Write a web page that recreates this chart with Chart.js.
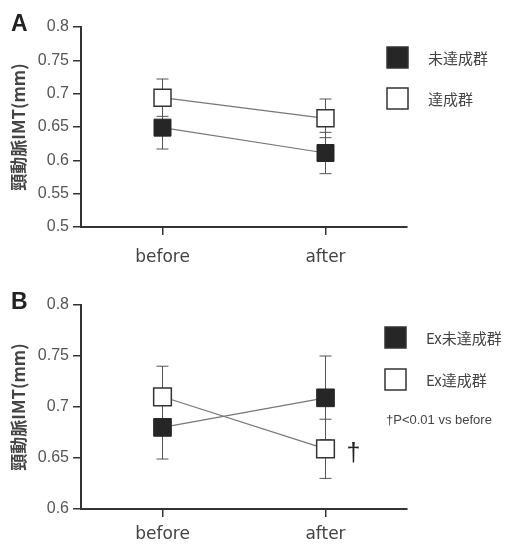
<!DOCTYPE html>
<html>
<head>
<meta charset="utf-8">
<script src="https://cdn.jsdelivr.net/npm/chart.js@4"></script>
<style>
body { margin: 0; background: #fff; }
#wrap { position: relative; width: 508px; height: 549px; }
canvas { position: absolute; left: 0; }
</style>
</head>
<body>
<div id="wrap">
<canvas id="chartA" width="508" height="278" style="top:0px"></canvas>
<canvas id="chartB" width="508" height="271" style="top:278px"></canvas>
</div>
<script>
var categories = ['before', 'after'];

// panel A
var labelsA = ['未達成群', '達成群'];
var miTasseiA = [0.649, 0.611];
var miTasseiA_sd = [0.032, 0.031];
var tasseiA = [0.694, 0.663];
var tasseiA_sd = [0.028, 0.029];
var yTicksA = [0.5, 0.55, 0.6, 0.65, 0.7, 0.75, 0.8];

// panel B
var labelsB = ['Ex未達成群', 'Ex達成群'];
var miTasseiB = [0.68, 0.709];
var miTasseiB_sd = [0.031, 0.041];
var tasseiB = [0.71, 0.659];
var tasseiB_sd = [0.03, 0.029];
var tasseiB_marks = ['', '†'];
var yTicksB = [0.6, 0.65, 0.7, 0.75, 0.8];
var noteB = '†P<0.01 vs before';

var yTitle = '頸動脈IMT(mm)';

function makePanel(canvasId, p) {
    var ctx = document.getElementById(canvasId).getContext('2d');

    var errorBars = {
        id: 'errorBars',
        beforeDatasetsDraw: function(chart) {
            var c = chart.ctx;
            var y = chart.scales.y;
            c.save();
            c.strokeStyle = '#555';
            c.lineWidth = 1;
            chart.data.datasets.forEach(function(ds, i) {
                var meta = chart.getDatasetMeta(i);
                meta.data.forEach(function(pt, j) {
                    var top = y.getPixelForValue(ds.data[j] + ds.errors[j]);
                    var bot = y.getPixelForValue(ds.data[j] - ds.errors[j]);
                    c.beginPath();
                    c.moveTo(pt.x, top); c.lineTo(pt.x, bot);
                    c.moveTo(pt.x - 6, top); c.lineTo(pt.x + 6, top);
                    c.moveTo(pt.x - 6, bot); c.lineTo(pt.x + 6, bot);
                    c.stroke();
                });
            });
            c.restore();
        }
    };

    var extras = {
        id: 'extras',
        afterDraw: function(chart) {
            var c = chart.ctx;
            c.save();
            // panel letter
            c.fillStyle = '#222';
            c.font = 'bold 23px "Liberation Sans"';
            c.textBaseline = 'middle';
            c.textAlign = 'left';
            c.fillText(p.letter, 11, 25);
            // legend
            chart.data.datasets.forEach(function(ds, i) {
                var top = p.legendY[i];
                c.fillStyle = ds.pointBackgroundColor;
                c.fillRect(p.legendX, top, 21, 21);
                c.strokeStyle = '#333';
                c.lineWidth = 1.5;
                c.strokeRect(p.legendX, top, 21, 21);
                c.fillStyle = '#444';
                c.font = '15px "Noto Sans CJK JP"';
                c.fillText(ds.label, p.legendX + 41, top + 11);
            });
            if (p.note) {
                c.fillStyle = '#444';
                c.font = '13px "Liberation Sans"';
                c.fillText(p.note, p.legendX + 1, p.noteY);
            }
            // significance marks
            chart.data.datasets.forEach(function(ds, i) {
                if (!ds.marks) return;
                var meta = chart.getDatasetMeta(i);
                meta.data.forEach(function(pt, j) {
                    if (!ds.marks[j]) return;
                    c.fillStyle = '#222';
                    c.font = '25px "Liberation Sans"';
                    c.textAlign = 'left';
                    c.fillText(ds.marks[j], pt.x + 21, pt.y + 5);
                });
            });
            c.restore();
        }
    };

    return new Chart(ctx, {
        type: 'line',
        data: {
            labels: categories,
            datasets: [
                {
                    label: p.labels[0],
                    data: p.black,
                    errors: p.blackSd,
                    borderColor: '#777',
                    borderWidth: 1.2,
                    pointStyle: 'rect',
                    pointRadius: p.radius,
                    pointBackgroundColor: '#262626',
                    pointBorderColor: '#262626',
                    pointBorderWidth: 1
                },
                {
                    label: p.labels[1],
                    data: p.white,
                    errors: p.whiteSd,
                    marks: p.whiteMarks,
                    borderColor: '#777',
                    borderWidth: 1.2,
                    pointStyle: 'rect',
                    pointRadius: p.radius,
                    pointBackgroundColor: '#ffffff',
                    pointBorderColor: '#333',
                    pointBorderWidth: 1.5
                }
            ]
        },
        options: {
            responsive: false,
            animation: false,
            events: [],
            layout: { padding: { top: 27, right: 101, left: 0, bottom: 0 } },
            plugins: { legend: { display: false }, tooltip: { enabled: false } },
            scales: {
                x: {
                    type: 'category',
                    offset: true,
                    afterFit: function(s) { s.height = p.xHeight; },
                    border: { display: true, color: '#333', width: 2 },
                    grid: { offset: false, drawOnChartArea: false, drawTicks: true, tickLength: 8, color: '#333', lineWidth: 1.5 },
                    ticks: { color: '#444', font: { family: 'DejaVu Sans', size: 17 }, padding: p.xPad, maxRotation: 0 }
                },
                y: {
                    min: p.yTicks[0],
                    max: p.yTicks[p.yTicks.length - 1],
                    afterBuildTicks: function(s) {
                        s.ticks = p.yTicks.map(function(v) { return { value: v }; });
                    },
                    afterFit: function(s) { s.width = 81; },
                    border: { display: true, color: '#333', width: 2 },
                    grid: { drawOnChartArea: false, drawTicks: true, tickLength: 8, color: '#333', lineWidth: 1.5 },
                    ticks: {
                        color: '#555',
                        font: { family: 'Liberation Sans', size: 16 },
                        padding: 4,
                        callback: function(v) { return String(parseFloat(Number(v).toFixed(2))); }
                    },
                    title: {
                        display: true,
                        text: yTitle,
                        color: '#444',
                        font: { family: 'Noto Sans CJK JP', size: 17, weight: 'bold' },
                        padding: { top: 8, bottom: 0 }
                    }
                }
            }
        },
        plugins: [errorBars, extras]
    });
}

var chartA = makePanel('chartA', {
    letter: 'A',
    labels: labelsA,
    black: miTasseiA, blackSd: miTasseiA_sd,
    white: tasseiA, whiteSd: tasseiA_sd,
    yTicks: yTicksA,
    radius: 12,
    xHeight: 51, xPad: 12,
    legendX: 387, legendY: [47, 88]
});

var chartB = makePanel('chartB', {
    letter: 'B',
    labels: labelsB,
    black: miTasseiB, blackSd: miTasseiB_sd,
    white: tasseiB, whiteSd: tasseiB_sd, whiteMarks: tasseiB_marks,
    yTicks: yTicksB,
    radius: 12.5,
    xHeight: 40, xPad: 7,
    legendX: 385, legendY: [49, 91],
    note: noteB, noteY: 142
});
</script>
</body>
</html>
